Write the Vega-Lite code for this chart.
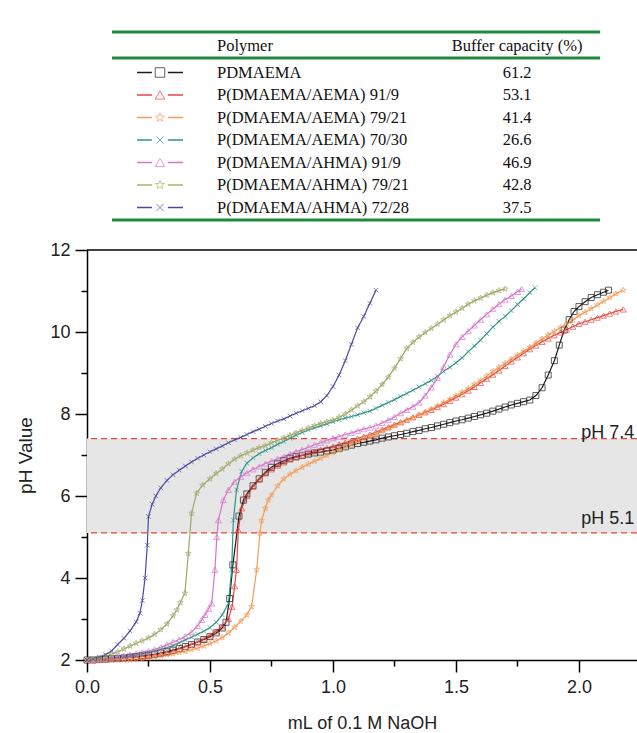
{
"$schema": "https://vega.github.io/schema/vega-lite/v6.json",
"background": "white",
"padding": {"left": 16, "top": 5, "right": 0, "bottom": 0},
"spacing": 20,
"bounds": "flush",
"config": {"view": {"stroke": null}, "font": "Liberation Sans"},
"resolve": {"scale": {"x": "independent", "y": "independent", "color": "independent", "shape": "independent"}},
"datasets": {
"table": [
{"s":"P0","polymer":"PDMAEMA","capacity":61.2},
{"s":"E9","polymer":"P(DMAEMA/AEMA) 91/9","capacity":53.1},
{"s":"E21","polymer":"P(DMAEMA/AEMA) 79/21","capacity":41.4},
{"s":"E30","polymer":"P(DMAEMA/AEMA) 70/30","capacity":26.6},
{"s":"H9","polymer":"P(DMAEMA/AHMA) 91/9","capacity":46.9},
{"s":"H21","polymer":"P(DMAEMA/AHMA) 79/21","capacity":42.8},
{"s":"H28","polymer":"P(DMAEMA/AHMA) 72/28","capacity":37.5}
],
"refs": [{"label":"pH 5.1","ph":5.1},{"label":"pH 7.4","ph":7.4}],
"curves": [
{"s":"P0","ml":0,"ph":2.0},{"s":"P0","ml":0.025,"ph":2.0},{"s":"P0","ml":0.05,"ph":2.01},{"s":"P0","ml":0.075,"ph":2.02},{"s":"P0","ml":0.1,"ph":2.03},{"s":"P0","ml":0.125,"ph":2.04},{"s":"P0","ml":0.15,"ph":2.05},{"s":"P0","ml":0.175,"ph":2.07},{"s":"P0","ml":0.2,"ph":2.08},{"s":"P0","ml":0.225,"ph":2.1},{"s":"P0","ml":0.25,"ph":2.12},{"s":"P0","ml":0.275,"ph":2.14},{"s":"P0","ml":0.3,"ph":2.17},{"s":"P0","ml":0.325,"ph":2.2},{"s":"P0","ml":0.35,"ph":2.24},{"s":"P0","ml":0.375,"ph":2.28},{"s":"P0","ml":0.4,"ph":2.33},{"s":"P0","ml":0.425,"ph":2.38},{"s":"P0","ml":0.45,"ph":2.44},{"s":"P0","ml":0.475,"ph":2.5},{"s":"P0","ml":0.5,"ph":2.57},{"s":"P0","ml":0.525,"ph":2.66},{"s":"P0","ml":0.55,"ph":2.78},{"s":"P0","ml":0.565,"ph":2.92},{"s":"P0","ml":0.58,"ph":3.5},{"s":"P0","ml":0.593,"ph":4.32},{"s":"P0","ml":0.618,"ph":5.51},{"s":"P0","ml":0.636,"ph":5.9},{"s":"P0","ml":0.65,"ph":6.05},{"s":"P0","ml":0.675,"ph":6.25},{"s":"P0","ml":0.7,"ph":6.42},{"s":"P0","ml":0.725,"ph":6.58},{"s":"P0","ml":0.75,"ph":6.7},{"s":"P0","ml":0.775,"ph":6.79},{"s":"P0","ml":0.8,"ph":6.86},{"s":"P0","ml":0.825,"ph":6.92},{"s":"P0","ml":0.85,"ph":6.96},{"s":"P0","ml":0.875,"ph":6.99},{"s":"P0","ml":0.9,"ph":7.02},{"s":"P0","ml":0.925,"ph":7.05},{"s":"P0","ml":0.95,"ph":7.07},{"s":"P0","ml":0.975,"ph":7.1},{"s":"P0","ml":1.0,"ph":7.12},{"s":"P0","ml":1.025,"ph":7.16},{"s":"P0","ml":1.05,"ph":7.2},{"s":"P0","ml":1.075,"ph":7.24},{"s":"P0","ml":1.1,"ph":7.28},{"s":"P0","ml":1.125,"ph":7.31},{"s":"P0","ml":1.15,"ph":7.34},{"s":"P0","ml":1.175,"ph":7.37},{"s":"P0","ml":1.2,"ph":7.41},{"s":"P0","ml":1.225,"ph":7.44},{"s":"P0","ml":1.25,"ph":7.47},{"s":"P0","ml":1.275,"ph":7.5},{"s":"P0","ml":1.3,"ph":7.53},{"s":"P0","ml":1.325,"ph":7.57},{"s":"P0","ml":1.35,"ph":7.6},{"s":"P0","ml":1.375,"ph":7.64},{"s":"P0","ml":1.4,"ph":7.67},{"s":"P0","ml":1.425,"ph":7.71},{"s":"P0","ml":1.45,"ph":7.75},{"s":"P0","ml":1.475,"ph":7.79},{"s":"P0","ml":1.5,"ph":7.83},{"s":"P0","ml":1.525,"ph":7.86},{"s":"P0","ml":1.55,"ph":7.9},{"s":"P0","ml":1.575,"ph":7.94},{"s":"P0","ml":1.6,"ph":7.98},{"s":"P0","ml":1.625,"ph":8.02},{"s":"P0","ml":1.65,"ph":8.07},{"s":"P0","ml":1.675,"ph":8.12},{"s":"P0","ml":1.7,"ph":8.17},{"s":"P0","ml":1.725,"ph":8.22},{"s":"P0","ml":1.75,"ph":8.26},{"s":"P0","ml":1.775,"ph":8.3},{"s":"P0","ml":1.8,"ph":8.34},{"s":"P0","ml":1.825,"ph":8.45},{"s":"P0","ml":1.85,"ph":8.64},{"s":"P0","ml":1.875,"ph":8.95},{"s":"P0","ml":1.9,"ph":9.3},{"s":"P0","ml":1.92,"ph":9.68},{"s":"P0","ml":1.94,"ph":10.05},{"s":"P0","ml":1.96,"ph":10.3},{"s":"P0","ml":1.98,"ph":10.5},{"s":"P0","ml":2.0,"ph":10.62},{"s":"P0","ml":2.025,"ph":10.74},{"s":"P0","ml":2.05,"ph":10.84},{"s":"P0","ml":2.075,"ph":10.91},{"s":"P0","ml":2.1,"ph":10.97},{"s":"P0","ml":2.12,"ph":11.02},

{"s":"E9","ml":0,"ph":2.0},{"s":"E9","ml":0.025,"ph":2.0},{"s":"E9","ml":0.05,"ph":2.01},{"s":"E9","ml":0.075,"ph":2.02},{"s":"E9","ml":0.1,"ph":2.03},{"s":"E9","ml":0.125,"ph":2.04},{"s":"E9","ml":0.15,"ph":2.05},{"s":"E9","ml":0.175,"ph":2.06},{"s":"E9","ml":0.2,"ph":2.07},{"s":"E9","ml":0.225,"ph":2.09},{"s":"E9","ml":0.25,"ph":2.1},{"s":"E9","ml":0.275,"ph":2.12},{"s":"E9","ml":0.3,"ph":2.15},{"s":"E9","ml":0.325,"ph":2.18},{"s":"E9","ml":0.35,"ph":2.22},{"s":"E9","ml":0.375,"ph":2.27},{"s":"E9","ml":0.4,"ph":2.32},{"s":"E9","ml":0.425,"ph":2.38},{"s":"E9","ml":0.45,"ph":2.44},{"s":"E9","ml":0.475,"ph":2.52},{"s":"E9","ml":0.5,"ph":2.6},{"s":"E9","ml":0.525,"ph":2.7},{"s":"E9","ml":0.55,"ph":2.82},{"s":"E9","ml":0.575,"ph":3.0},{"s":"E9","ml":0.59,"ph":3.3},{"s":"E9","ml":0.6,"ph":3.8},{"s":"E9","ml":0.608,"ph":4.2},{"s":"E9","ml":0.615,"ph":5.17},{"s":"E9","ml":0.629,"ph":5.7},{"s":"E9","ml":0.65,"ph":6.0},{"s":"E9","ml":0.675,"ph":6.23},{"s":"E9","ml":0.7,"ph":6.4},{"s":"E9","ml":0.725,"ph":6.55},{"s":"E9","ml":0.75,"ph":6.65},{"s":"E9","ml":0.775,"ph":6.74},{"s":"E9","ml":0.8,"ph":6.82},{"s":"E9","ml":0.825,"ph":6.89},{"s":"E9","ml":0.85,"ph":6.94},{"s":"E9","ml":0.875,"ph":6.99},{"s":"E9","ml":0.9,"ph":7.04},{"s":"E9","ml":0.925,"ph":7.09},{"s":"E9","ml":0.95,"ph":7.13},{"s":"E9","ml":0.975,"ph":7.17},{"s":"E9","ml":1.0,"ph":7.21},{"s":"E9","ml":1.025,"ph":7.26},{"s":"E9","ml":1.05,"ph":7.3},{"s":"E9","ml":1.075,"ph":7.35},{"s":"E9","ml":1.1,"ph":7.4},{"s":"E9","ml":1.125,"ph":7.45},{"s":"E9","ml":1.15,"ph":7.5},{"s":"E9","ml":1.175,"ph":7.56},{"s":"E9","ml":1.2,"ph":7.62},{"s":"E9","ml":1.225,"ph":7.68},{"s":"E9","ml":1.25,"ph":7.74},{"s":"E9","ml":1.275,"ph":7.8},{"s":"E9","ml":1.3,"ph":7.86},{"s":"E9","ml":1.325,"ph":7.92},{"s":"E9","ml":1.35,"ph":7.98},{"s":"E9","ml":1.375,"ph":8.04},{"s":"E9","ml":1.4,"ph":8.1},{"s":"E9","ml":1.425,"ph":8.17},{"s":"E9","ml":1.45,"ph":8.24},{"s":"E9","ml":1.475,"ph":8.32},{"s":"E9","ml":1.5,"ph":8.4},{"s":"E9","ml":1.525,"ph":8.48},{"s":"E9","ml":1.55,"ph":8.57},{"s":"E9","ml":1.575,"ph":8.66},{"s":"E9","ml":1.6,"ph":8.76},{"s":"E9","ml":1.625,"ph":8.86},{"s":"E9","ml":1.65,"ph":8.96},{"s":"E9","ml":1.675,"ph":9.06},{"s":"E9","ml":1.7,"ph":9.17},{"s":"E9","ml":1.725,"ph":9.28},{"s":"E9","ml":1.75,"ph":9.38},{"s":"E9","ml":1.775,"ph":9.48},{"s":"E9","ml":1.8,"ph":9.58},{"s":"E9","ml":1.825,"ph":9.67},{"s":"E9","ml":1.85,"ph":9.76},{"s":"E9","ml":1.875,"ph":9.84},{"s":"E9","ml":1.9,"ph":9.92},{"s":"E9","ml":1.925,"ph":9.99},{"s":"E9","ml":1.95,"ph":10.06},{"s":"E9","ml":1.975,"ph":10.13},{"s":"E9","ml":2.0,"ph":10.2},{"s":"E9","ml":2.025,"ph":10.25},{"s":"E9","ml":2.05,"ph":10.3},{"s":"E9","ml":2.075,"ph":10.35},{"s":"E9","ml":2.1,"ph":10.4},{"s":"E9","ml":2.125,"ph":10.45},{"s":"E9","ml":2.15,"ph":10.5},{"s":"E9","ml":2.18,"ph":10.55},

{"s":"E21","ml":0,"ph":2.0},{"s":"E21","ml":0.025,"ph":2.0},{"s":"E21","ml":0.05,"ph":2.0},{"s":"E21","ml":0.075,"ph":2.0},{"s":"E21","ml":0.1,"ph":2.0},{"s":"E21","ml":0.125,"ph":2.0},{"s":"E21","ml":0.15,"ph":2.0},{"s":"E21","ml":0.175,"ph":2.0},{"s":"E21","ml":0.2,"ph":2.01},{"s":"E21","ml":0.225,"ph":2.03},{"s":"E21","ml":0.25,"ph":2.05},{"s":"E21","ml":0.275,"ph":2.08},{"s":"E21","ml":0.3,"ph":2.1},{"s":"E21","ml":0.325,"ph":2.13},{"s":"E21","ml":0.35,"ph":2.15},{"s":"E21","ml":0.375,"ph":2.18},{"s":"E21","ml":0.4,"ph":2.21},{"s":"E21","ml":0.425,"ph":2.25},{"s":"E21","ml":0.45,"ph":2.29},{"s":"E21","ml":0.475,"ph":2.34},{"s":"E21","ml":0.5,"ph":2.4},{"s":"E21","ml":0.525,"ph":2.47},{"s":"E21","ml":0.55,"ph":2.55},{"s":"E21","ml":0.575,"ph":2.66},{"s":"E21","ml":0.6,"ph":2.8},{"s":"E21","ml":0.625,"ph":2.95},{"s":"E21","ml":0.65,"ph":3.1},{"s":"E21","ml":0.669,"ph":3.3},{"s":"E21","ml":0.69,"ph":4.2},{"s":"E21","ml":0.703,"ph":5.09},{"s":"E21","ml":0.71,"ph":5.4},{"s":"E21","ml":0.725,"ph":5.7},{"s":"E21","ml":0.737,"ph":5.9},{"s":"E21","ml":0.75,"ph":6.02},{"s":"E21","ml":0.775,"ph":6.25},{"s":"E21","ml":0.8,"ph":6.42},{"s":"E21","ml":0.825,"ph":6.53},{"s":"E21","ml":0.85,"ph":6.62},{"s":"E21","ml":0.875,"ph":6.7},{"s":"E21","ml":0.9,"ph":6.78},{"s":"E21","ml":0.925,"ph":6.85},{"s":"E21","ml":0.95,"ph":6.92},{"s":"E21","ml":0.975,"ph":6.99},{"s":"E21","ml":1.0,"ph":7.06},{"s":"E21","ml":1.025,"ph":7.12},{"s":"E21","ml":1.05,"ph":7.19},{"s":"E21","ml":1.075,"ph":7.26},{"s":"E21","ml":1.1,"ph":7.33},{"s":"E21","ml":1.125,"ph":7.4},{"s":"E21","ml":1.15,"ph":7.46},{"s":"E21","ml":1.175,"ph":7.52},{"s":"E21","ml":1.2,"ph":7.58},{"s":"E21","ml":1.225,"ph":7.64},{"s":"E21","ml":1.25,"ph":7.71},{"s":"E21","ml":1.275,"ph":7.78},{"s":"E21","ml":1.3,"ph":7.84},{"s":"E21","ml":1.325,"ph":7.91},{"s":"E21","ml":1.35,"ph":7.98},{"s":"E21","ml":1.375,"ph":8.05},{"s":"E21","ml":1.4,"ph":8.12},{"s":"E21","ml":1.425,"ph":8.2},{"s":"E21","ml":1.45,"ph":8.28},{"s":"E21","ml":1.475,"ph":8.36},{"s":"E21","ml":1.5,"ph":8.45},{"s":"E21","ml":1.525,"ph":8.53},{"s":"E21","ml":1.55,"ph":8.62},{"s":"E21","ml":1.575,"ph":8.72},{"s":"E21","ml":1.6,"ph":8.82},{"s":"E21","ml":1.625,"ph":8.93},{"s":"E21","ml":1.65,"ph":9.04},{"s":"E21","ml":1.675,"ph":9.14},{"s":"E21","ml":1.7,"ph":9.24},{"s":"E21","ml":1.725,"ph":9.34},{"s":"E21","ml":1.75,"ph":9.44},{"s":"E21","ml":1.775,"ph":9.53},{"s":"E21","ml":1.8,"ph":9.63},{"s":"E21","ml":1.825,"ph":9.73},{"s":"E21","ml":1.85,"ph":9.83},{"s":"E21","ml":1.875,"ph":9.93},{"s":"E21","ml":1.9,"ph":10.02},{"s":"E21","ml":1.925,"ph":10.11},{"s":"E21","ml":1.95,"ph":10.2},{"s":"E21","ml":1.975,"ph":10.29},{"s":"E21","ml":2.0,"ph":10.4},{"s":"E21","ml":2.025,"ph":10.48},{"s":"E21","ml":2.05,"ph":10.57},{"s":"E21","ml":2.075,"ph":10.66},{"s":"E21","ml":2.1,"ph":10.75},{"s":"E21","ml":2.125,"ph":10.84},{"s":"E21","ml":2.15,"ph":10.93},{"s":"E21","ml":2.18,"ph":11.02},

{"s":"E30","ml":0,"ph":2.0},{"s":"E30","ml":0.025,"ph":2.01},{"s":"E30","ml":0.05,"ph":2.02},{"s":"E30","ml":0.075,"ph":2.03},{"s":"E30","ml":0.1,"ph":2.05},{"s":"E30","ml":0.125,"ph":2.06},{"s":"E30","ml":0.15,"ph":2.08},{"s":"E30","ml":0.175,"ph":2.1},{"s":"E30","ml":0.2,"ph":2.12},{"s":"E30","ml":0.225,"ph":2.15},{"s":"E30","ml":0.25,"ph":2.18},{"s":"E30","ml":0.275,"ph":2.22},{"s":"E30","ml":0.3,"ph":2.26},{"s":"E30","ml":0.325,"ph":2.3},{"s":"E30","ml":0.35,"ph":2.35},{"s":"E30","ml":0.375,"ph":2.42},{"s":"E30","ml":0.4,"ph":2.49},{"s":"E30","ml":0.425,"ph":2.56},{"s":"E30","ml":0.45,"ph":2.63},{"s":"E30","ml":0.475,"ph":2.7},{"s":"E30","ml":0.5,"ph":2.79},{"s":"E30","ml":0.525,"ph":2.92},{"s":"E30","ml":0.55,"ph":3.1},{"s":"E30","ml":0.575,"ph":3.38},{"s":"E30","ml":0.588,"ph":4.2},{"s":"E30","ml":0.595,"ph":5.41},{"s":"E30","ml":0.608,"ph":6.15},{"s":"E30","ml":0.629,"ph":6.6},{"s":"E30","ml":0.65,"ph":6.8},{"s":"E30","ml":0.675,"ph":6.93},{"s":"E30","ml":0.7,"ph":7.03},{"s":"E30","ml":0.725,"ph":7.11},{"s":"E30","ml":0.75,"ph":7.18},{"s":"E30","ml":0.775,"ph":7.26},{"s":"E30","ml":0.8,"ph":7.33},{"s":"E30","ml":0.825,"ph":7.41},{"s":"E30","ml":0.85,"ph":7.48},{"s":"E30","ml":0.875,"ph":7.55},{"s":"E30","ml":0.9,"ph":7.61},{"s":"E30","ml":0.925,"ph":7.66},{"s":"E30","ml":0.95,"ph":7.71},{"s":"E30","ml":0.975,"ph":7.76},{"s":"E30","ml":1.0,"ph":7.81},{"s":"E30","ml":1.025,"ph":7.86},{"s":"E30","ml":1.05,"ph":7.9},{"s":"E30","ml":1.075,"ph":7.94},{"s":"E30","ml":1.1,"ph":7.98},{"s":"E30","ml":1.125,"ph":8.03},{"s":"E30","ml":1.15,"ph":8.07},{"s":"E30","ml":1.175,"ph":8.14},{"s":"E30","ml":1.2,"ph":8.21},{"s":"E30","ml":1.225,"ph":8.28},{"s":"E30","ml":1.25,"ph":8.35},{"s":"E30","ml":1.275,"ph":8.43},{"s":"E30","ml":1.3,"ph":8.5},{"s":"E30","ml":1.325,"ph":8.58},{"s":"E30","ml":1.35,"ph":8.66},{"s":"E30","ml":1.375,"ph":8.74},{"s":"E30","ml":1.4,"ph":8.82},{"s":"E30","ml":1.425,"ph":8.92},{"s":"E30","ml":1.45,"ph":9.04},{"s":"E30","ml":1.475,"ph":9.14},{"s":"E30","ml":1.5,"ph":9.25},{"s":"E30","ml":1.525,"ph":9.37},{"s":"E30","ml":1.55,"ph":9.52},{"s":"E30","ml":1.575,"ph":9.66},{"s":"E30","ml":1.6,"ph":9.8},{"s":"E30","ml":1.625,"ph":9.96},{"s":"E30","ml":1.65,"ph":10.12},{"s":"E30","ml":1.675,"ph":10.26},{"s":"E30","ml":1.7,"ph":10.38},{"s":"E30","ml":1.725,"ph":10.52},{"s":"E30","ml":1.75,"ph":10.67},{"s":"E30","ml":1.775,"ph":10.81},{"s":"E30","ml":1.8,"ph":10.96},{"s":"E30","ml":1.821,"ph":11.08},

{"s":"H9","ml":0,"ph":2.0},{"s":"H9","ml":0.025,"ph":2.01},{"s":"H9","ml":0.05,"ph":2.02},{"s":"H9","ml":0.075,"ph":2.04},{"s":"H9","ml":0.1,"ph":2.06},{"s":"H9","ml":0.125,"ph":2.08},{"s":"H9","ml":0.15,"ph":2.1},{"s":"H9","ml":0.175,"ph":2.13},{"s":"H9","ml":0.2,"ph":2.16},{"s":"H9","ml":0.225,"ph":2.19},{"s":"H9","ml":0.25,"ph":2.22},{"s":"H9","ml":0.275,"ph":2.26},{"s":"H9","ml":0.3,"ph":2.31},{"s":"H9","ml":0.325,"ph":2.37},{"s":"H9","ml":0.35,"ph":2.44},{"s":"H9","ml":0.375,"ph":2.5},{"s":"H9","ml":0.4,"ph":2.58},{"s":"H9","ml":0.425,"ph":2.68},{"s":"H9","ml":0.45,"ph":2.83},{"s":"H9","ml":0.466,"ph":2.98},{"s":"H9","ml":0.48,"ph":3.1},{"s":"H9","ml":0.495,"ph":3.25},{"s":"H9","ml":0.507,"ph":3.38},{"s":"H9","ml":0.52,"ph":4.2},{"s":"H9","ml":0.528,"ph":5.0},{"s":"H9","ml":0.534,"ph":5.41},{"s":"H9","ml":0.554,"ph":5.9},{"s":"H9","ml":0.575,"ph":6.15},{"s":"H9","ml":0.6,"ph":6.35},{"s":"H9","ml":0.625,"ph":6.47},{"s":"H9","ml":0.65,"ph":6.56},{"s":"H9","ml":0.675,"ph":6.65},{"s":"H9","ml":0.7,"ph":6.72},{"s":"H9","ml":0.725,"ph":6.79},{"s":"H9","ml":0.75,"ph":6.85},{"s":"H9","ml":0.775,"ph":6.91},{"s":"H9","ml":0.8,"ph":6.96},{"s":"H9","ml":0.825,"ph":7.02},{"s":"H9","ml":0.85,"ph":7.08},{"s":"H9","ml":0.875,"ph":7.13},{"s":"H9","ml":0.9,"ph":7.19},{"s":"H9","ml":0.925,"ph":7.25},{"s":"H9","ml":0.95,"ph":7.3},{"s":"H9","ml":0.975,"ph":7.36},{"s":"H9","ml":1.0,"ph":7.41},{"s":"H9","ml":1.025,"ph":7.45},{"s":"H9","ml":1.05,"ph":7.5},{"s":"H9","ml":1.075,"ph":7.54},{"s":"H9","ml":1.1,"ph":7.59},{"s":"H9","ml":1.125,"ph":7.63},{"s":"H9","ml":1.15,"ph":7.67},{"s":"H9","ml":1.175,"ph":7.72},{"s":"H9","ml":1.2,"ph":7.78},{"s":"H9","ml":1.225,"ph":7.85},{"s":"H9","ml":1.25,"ph":7.93},{"s":"H9","ml":1.275,"ph":8.02},{"s":"H9","ml":1.3,"ph":8.1},{"s":"H9","ml":1.325,"ph":8.18},{"s":"H9","ml":1.35,"ph":8.28},{"s":"H9","ml":1.375,"ph":8.45},{"s":"H9","ml":1.4,"ph":8.65},{"s":"H9","ml":1.425,"ph":8.88},{"s":"H9","ml":1.45,"ph":9.15},{"s":"H9","ml":1.475,"ph":9.45},{"s":"H9","ml":1.5,"ph":9.7},{"s":"H9","ml":1.525,"ph":9.88},{"s":"H9","ml":1.55,"ph":10.02},{"s":"H9","ml":1.575,"ph":10.16},{"s":"H9","ml":1.6,"ph":10.3},{"s":"H9","ml":1.625,"ph":10.43},{"s":"H9","ml":1.65,"ph":10.56},{"s":"H9","ml":1.675,"ph":10.68},{"s":"H9","ml":1.7,"ph":10.79},{"s":"H9","ml":1.725,"ph":10.88},{"s":"H9","ml":1.75,"ph":10.98},{"s":"H9","ml":1.767,"ph":11.05},

{"s":"H21","ml":0,"ph":2.0},{"s":"H21","ml":0.025,"ph":2.02},{"s":"H21","ml":0.05,"ph":2.05},{"s":"H21","ml":0.075,"ph":2.09},{"s":"H21","ml":0.1,"ph":2.14},{"s":"H21","ml":0.125,"ph":2.2},{"s":"H21","ml":0.15,"ph":2.27},{"s":"H21","ml":0.175,"ph":2.34},{"s":"H21","ml":0.2,"ph":2.41},{"s":"H21","ml":0.225,"ph":2.47},{"s":"H21","ml":0.25,"ph":2.54},{"s":"H21","ml":0.275,"ph":2.63},{"s":"H21","ml":0.3,"ph":2.74},{"s":"H21","ml":0.325,"ph":2.88},{"s":"H21","ml":0.35,"ph":3.08},{"s":"H21","ml":0.365,"ph":3.22},{"s":"H21","ml":0.38,"ph":3.4},{"s":"H21","ml":0.398,"ph":3.63},{"s":"H21","ml":0.412,"ph":4.6},{"s":"H21","ml":0.425,"ph":5.58},{"s":"H21","ml":0.446,"ph":6.07},{"s":"H21","ml":0.47,"ph":6.27},{"s":"H21","ml":0.5,"ph":6.42},{"s":"H21","ml":0.525,"ph":6.55},{"s":"H21","ml":0.55,"ph":6.66},{"s":"H21","ml":0.575,"ph":6.79},{"s":"H21","ml":0.6,"ph":6.9},{"s":"H21","ml":0.625,"ph":6.98},{"s":"H21","ml":0.65,"ph":7.05},{"s":"H21","ml":0.675,"ph":7.12},{"s":"H21","ml":0.7,"ph":7.18},{"s":"H21","ml":0.725,"ph":7.23},{"s":"H21","ml":0.75,"ph":7.3},{"s":"H21","ml":0.775,"ph":7.36},{"s":"H21","ml":0.8,"ph":7.42},{"s":"H21","ml":0.825,"ph":7.48},{"s":"H21","ml":0.85,"ph":7.54},{"s":"H21","ml":0.875,"ph":7.6},{"s":"H21","ml":0.9,"ph":7.66},{"s":"H21","ml":0.925,"ph":7.72},{"s":"H21","ml":0.95,"ph":7.77},{"s":"H21","ml":0.975,"ph":7.81},{"s":"H21","ml":1.0,"ph":7.85},{"s":"H21","ml":1.025,"ph":7.92},{"s":"H21","ml":1.05,"ph":8.0},{"s":"H21","ml":1.075,"ph":8.1},{"s":"H21","ml":1.1,"ph":8.2},{"s":"H21","ml":1.125,"ph":8.3},{"s":"H21","ml":1.15,"ph":8.42},{"s":"H21","ml":1.175,"ph":8.56},{"s":"H21","ml":1.2,"ph":8.72},{"s":"H21","ml":1.225,"ph":8.9},{"s":"H21","ml":1.25,"ph":9.12},{"s":"H21","ml":1.275,"ph":9.35},{"s":"H21","ml":1.3,"ph":9.6},{"s":"H21","ml":1.325,"ph":9.75},{"s":"H21","ml":1.35,"ph":9.88},{"s":"H21","ml":1.375,"ph":9.99},{"s":"H21","ml":1.4,"ph":10.09},{"s":"H21","ml":1.425,"ph":10.19},{"s":"H21","ml":1.45,"ph":10.3},{"s":"H21","ml":1.475,"ph":10.4},{"s":"H21","ml":1.5,"ph":10.49},{"s":"H21","ml":1.525,"ph":10.58},{"s":"H21","ml":1.55,"ph":10.68},{"s":"H21","ml":1.575,"ph":10.76},{"s":"H21","ml":1.6,"ph":10.83},{"s":"H21","ml":1.625,"ph":10.9},{"s":"H21","ml":1.65,"ph":10.96},{"s":"H21","ml":1.675,"ph":11.01},{"s":"H21","ml":1.7,"ph":11.05},

{"s":"H28","ml":0,"ph":2.0},{"s":"H28","ml":0.025,"ph":2.03},{"s":"H28","ml":0.05,"ph":2.07},{"s":"H28","ml":0.075,"ph":2.13},{"s":"H28","ml":0.1,"ph":2.22},{"s":"H28","ml":0.125,"ph":2.38},{"s":"H28","ml":0.15,"ph":2.53},{"s":"H28","ml":0.175,"ph":2.71},{"s":"H28","ml":0.2,"ph":2.93},{"s":"H28","ml":0.215,"ph":3.14},{"s":"H28","ml":0.225,"ph":3.45},{"s":"H28","ml":0.236,"ph":4.0},{"s":"H28","ml":0.245,"ph":4.8},{"s":"H28","ml":0.25,"ph":5.5},{"s":"H28","ml":0.265,"ph":5.8},{"s":"H28","ml":0.28,"ph":6.0},{"s":"H28","ml":0.3,"ph":6.2},{"s":"H28","ml":0.325,"ph":6.38},{"s":"H28","ml":0.35,"ph":6.52},{"s":"H28","ml":0.375,"ph":6.63},{"s":"H28","ml":0.4,"ph":6.73},{"s":"H28","ml":0.425,"ph":6.83},{"s":"H28","ml":0.45,"ph":6.92},{"s":"H28","ml":0.475,"ph":7.0},{"s":"H28","ml":0.5,"ph":7.08},{"s":"H28","ml":0.525,"ph":7.15},{"s":"H28","ml":0.55,"ph":7.22},{"s":"H28","ml":0.575,"ph":7.3},{"s":"H28","ml":0.6,"ph":7.37},{"s":"H28","ml":0.625,"ph":7.43},{"s":"H28","ml":0.65,"ph":7.5},{"s":"H28","ml":0.675,"ph":7.57},{"s":"H28","ml":0.7,"ph":7.63},{"s":"H28","ml":0.725,"ph":7.7},{"s":"H28","ml":0.75,"ph":7.77},{"s":"H28","ml":0.775,"ph":7.83},{"s":"H28","ml":0.8,"ph":7.88},{"s":"H28","ml":0.825,"ph":7.95},{"s":"H28","ml":0.85,"ph":8.02},{"s":"H28","ml":0.875,"ph":8.08},{"s":"H28","ml":0.9,"ph":8.14},{"s":"H28","ml":0.925,"ph":8.2},{"s":"H28","ml":0.95,"ph":8.3},{"s":"H28","ml":0.975,"ph":8.45},{"s":"H28","ml":1.0,"ph":8.67},{"s":"H28","ml":1.025,"ph":8.95},{"s":"H28","ml":1.05,"ph":9.3},{"s":"H28","ml":1.075,"ph":9.7},{"s":"H28","ml":1.1,"ph":10.1},{"s":"H28","ml":1.125,"ph":10.38},{"s":"H28","ml":1.15,"ph":10.7},{"s":"H28","ml":1.175,"ph":11.02}
]
},
"vconcat": [
{
"width": 550, "height": 225,
"data": {"name": "table"},
"layer": [
{"data": {"values": [{}]}, "mark": {"type": "rule", "color": "#1f8a3e", "strokeWidth": 3},
 "encoding": {"x": {"datum": 4.55, "type": "quantitative", "scale": {"domain": [0, 100]}, "axis": null}, "x2": {"datum": 93.3}, "y": {"datum": -0.8, "type": "quantitative", "scale": {"domain": [-1.12, 7.88], "reverse": true}, "axis": null}}},
{"data": {"values": [{}]}, "mark": {"type": "rule", "color": "#1f8a3e", "strokeWidth": 3},
 "encoding": {"x": {"datum": 4.55, "type": "quantitative"}, "x2": {"datum": 93.3}, "y": {"datum": 0.36, "type": "quantitative"}}},
{"data": {"values": [{}]}, "mark": {"type": "rule", "color": "#1f8a3e", "strokeWidth": 3},
 "encoding": {"x": {"datum": 4.55, "type": "quantitative"}, "x2": {"datum": 93.3}, "y": {"datum": 7.56, "type": "quantitative"}}},
{"data": {"values": [{}]}, "mark": {"type": "text", "text": "Polymer", "align": "left", "baseline": "middle", "font": "Liberation Serif", "fontSize": 16.5, "color": "#111"},
 "encoding": {"x": {"datum": 23.64, "type": "quantitative"}, "y": {"datum": -0.16, "type": "quantitative"}}},
{"data": {"values": [{}]}, "mark": {"type": "text", "text": "Buffer capacity (%)", "align": "center", "baseline": "middle", "font": "Liberation Serif", "fontSize": 16.5, "color": "#111"},
 "encoding": {"x": {"datum": 78.2, "type": "quantitative"}, "y": {"datum": -0.16, "type": "quantitative"}}},
{"transform": [{"window": [{"op": "row_number", "as": "row"}]}],
 "mark": {"type": "rule", "strokeWidth": 1.5},
 "encoding": {"x": {"datum": 9.1, "type": "quantitative"}, "x2": {"datum": 11.8}, "y": {"field": "row", "type": "quantitative"},
  "color": {"field": "s", "type": "nominal", "legend": null, "scale": {"domain": ["P0","E9","E21","E30","H9","H21","H28"], "range": ["#1a1a1a","#e4463f","#f59b55","#2e9486","#d574cb","#a8b45c","#4a4ba0"]}}}},
{"transform": [{"window": [{"op": "row_number", "as": "row"}]}],
 "mark": {"type": "rule", "strokeWidth": 1.5},
 "encoding": {"x": {"datum": 14.7, "type": "quantitative"}, "x2": {"datum": 17.45}, "y": {"field": "row", "type": "quantitative"},
  "color": {"field": "s", "type": "nominal", "legend": null}}},
{"transform": [{"window": [{"op": "row_number", "as": "row"}]}],
 "mark": {"type": "point", "filled": false, "size": 90, "strokeWidth": 1},
 "encoding": {"x": {"datum": 13.27, "type": "quantitative"}, "y": {"field": "row", "type": "quantitative"},
  "color": {"field": "s", "type": "nominal", "legend": null},
  "shape": {"field": "s", "type": "nominal", "legend": null, "scale": {"domain": ["P0","E9","E21","E30","H9","H21","H28"], "range": ["square","triangle-up","M0,-1L0.235,-0.324L0.951,-0.309L0.38,0.124L0.588,0.809L0,0.4L-0.588,0.809L-0.38,0.124L-0.951,-0.309L-0.235,-0.324Z","M-0.75,-0.75L0.75,0.75M0.75,-0.75L-0.75,0.75","triangle-up","M0,-1L0.235,-0.324L0.951,-0.309L0.38,0.124L0.588,0.809L0,0.4L-0.588,0.809L-0.38,0.124L-0.951,-0.309L-0.235,-0.324Z","M-0.75,-0.75L0.75,0.75M0.75,-0.75L-0.75,0.75"]}}}},
{"transform": [{"window": [{"op": "row_number", "as": "row"}]}],
 "mark": {"type": "text", "align": "left", "baseline": "middle", "font": "Liberation Serif", "fontSize": 16.5, "color": "#111"},
 "encoding": {"x": {"datum": 23.64, "type": "quantitative"}, "y": {"field": "row", "type": "quantitative"}, "text": {"field": "polymer"}}},
{"transform": [{"window": [{"op": "row_number", "as": "row"}]}],
 "mark": {"type": "text", "align": "center", "baseline": "middle", "font": "Liberation Serif", "fontSize": 16.5, "color": "#111"},
 "encoding": {"x": {"datum": 78.2, "type": "quantitative"}, "y": {"field": "row", "type": "quantitative"}, "text": {"field": "capacity", "type": "quantitative", "format": ".1f"}}}
]
},
{
"width": 550, "height": 410,
"layer": [
{"data": {"values": [{}]},
 "mark": {"type": "rect", "color": "#e6e6e6"},
 "encoding": {
  "x": {"datum": 0, "type": "quantitative",
   "scale": {"domain": [0, 2.236], "nice": false, "zero": false},
   "axis": {"title": "mL of 0.1 M NaOH", "values": [0, 0.25, 0.5, 0.75, 1, 1.25, 1.5, 1.75, 2], "format": ".1f",
     "labelExpr": "datum.value % 0.5 === 0 ? datum.label : ''", "labelFlush": false,
     "tickSize": {"condition": {"test": "datum.value % 0.5 !== 0", "value": 6}, "value": 12},
     "grid": false, "domainColor": "#000", "tickColor": "#000", "domainWidth": 1.5, "tickWidth": 1.5,
     "labelFont": "Liberation Sans", "labelFontSize": 18, "labelColor": "#222", "labelPadding": 6,
     "titleFont": "Liberation Sans", "titleFontSize": 18, "titleFontWeight": "normal", "titleColor": "#222", "titlePadding": 18}},
  "x2": {"datum": 2.236},
  "y": {"datum": 5.1, "type": "quantitative",
   "scale": {"domain": [2, 12], "nice": false, "zero": false},
   "axis": {"title": "pH Value", "values": [2, 3, 4, 5, 6, 7, 8, 9, 10, 11, 12],
     "labelExpr": "datum.value % 2 === 0 ? datum.label : ''", "labelFlush": false,
     "tickSize": {"condition": {"test": "datum.value % 2 !== 0", "value": 6}, "value": 12},
     "grid": false, "domainColor": "#000", "tickColor": "#000", "domainWidth": 1.5, "tickWidth": 1.5,
     "labelFont": "Liberation Sans", "labelFontSize": 18, "labelColor": "#222", "labelPadding": 5,
     "titleFont": "Liberation Sans", "titleFontSize": 19, "titleFontWeight": "normal", "titleColor": "#222", "titlePadding": 14}},
  "y2": {"datum": 7.4}}},
{"data": {"name": "refs"},
 "mark": {"type": "rule", "color": "#e0483c", "strokeDash": [6, 4], "strokeWidth": 1.3},
 "encoding": {"y": {"field": "ph", "type": "quantitative"}}},
{"data": {"values": [{}]},
 "mark": {"type": "rule", "color": "#000", "strokeWidth": 1.5},
 "encoding": {"y": {"datum": 12, "type": "quantitative"}}},
{"data": {"name": "curves"},
 "mark": {"type": "line", "strokeWidth": 1.2},
 "encoding": {"x": {"field": "ml", "type": "quantitative"}, "y": {"field": "ph", "type": "quantitative"},
  "color": {"field": "s", "type": "nominal", "legend": null, "scale": {"domain": ["P0","E9","E21","E30","H9","H21","H28"], "range": ["#1a1a1a","#e4463f","#f59b55","#2e9486","#d574cb","#a2a766","#4a4ba0"]}}}},
{"data": {"name": "curves"},
 "mark": {"type": "point", "filled": false, "size": 36, "strokeWidth": 1},
 "encoding": {"x": {"field": "ml", "type": "quantitative"}, "y": {"field": "ph", "type": "quantitative"},
  "color": {"field": "s", "type": "nominal", "legend": null},
  "shape": {"field": "s", "type": "nominal", "legend": null, "scale": {"domain": ["P0","E9","E21","E30","H9","H21","H28"], "range": ["square","triangle-up","M0,-1L0.235,-0.324L0.951,-0.309L0.38,0.124L0.588,0.809L0,0.4L-0.588,0.809L-0.38,0.124L-0.951,-0.309L-0.235,-0.324Z","M-0.75,-0.75L0.75,0.75M0.75,-0.75L-0.75,0.75","triangle-up","M0,-1L0.235,-0.324L0.951,-0.309L0.38,0.124L0.588,0.809L0,0.4L-0.588,0.809L-0.38,0.124L-0.951,-0.309L-0.235,-0.324Z","M-0.75,-0.75L0.75,0.75M0.75,-0.75L-0.75,0.75"]}}}},
{"data": {"name": "refs"}, "transform": [{"filter": "datum.ph > 7"}],
 "mark": {"type": "text", "align": "right", "baseline": "alphabetic", "dy": -1, "fontSize": 18, "font": "Liberation Sans", "color": "#222"},
 "encoding": {"x": {"datum": 2.225, "type": "quantitative"}, "y": {"field": "ph", "type": "quantitative"}, "text": {"field": "label"}}},
{"data": {"name": "refs"}, "transform": [{"filter": "datum.ph < 7"}],
 "mark": {"type": "text", "align": "right", "baseline": "alphabetic", "dy": -9, "fontSize": 18, "font": "Liberation Sans", "color": "#222"},
 "encoding": {"x": {"datum": 2.225, "type": "quantitative"}, "y": {"field": "ph", "type": "quantitative"}, "text": {"field": "label"}}}
]
}
]
}
